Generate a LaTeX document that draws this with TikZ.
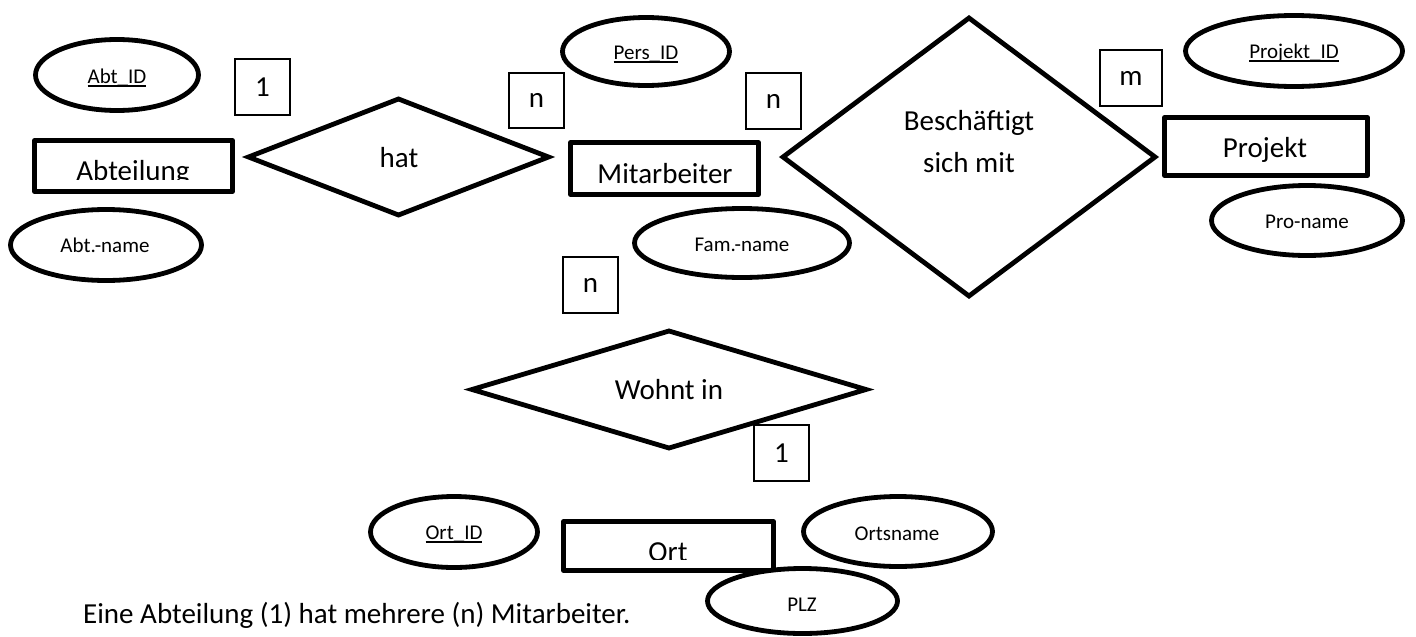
\documentclass[tikz,border=0pt]{standalone}
\usepackage{fontspec}
\setmainfont{Carlito}
\usetikzlibrary{shapes.geometric}
\newcommand\bigfs{\fontsize{29}{35}\selectfont}
\newcommand\smallfs{\fontsize{21}{25}\selectfont}
\newcommand\ulid[1]{\leavevmode\setbox0=\hbox{#1}\rlap{\rule[-4pt]{\wd0}{1.8pt}}\box0}
\tikzset{
  thick line/.style={line width=4.8pt, line join=round},
  attr/.style={ellipse, draw, thick line, fill=white, inner sep=0pt},
  entity/.style={rectangle, draw, thick line, fill=white, inner sep=0pt},
  rel/.style={diamond, draw, line width=4.8pt, fill=white, inner sep=0pt},
  card/.style={rectangle, draw, line width=1.4pt, fill=white, inner sep=0pt, font=\bigfs},
  bigtext/.style={inner sep=0pt, anchor=base, font=\bigfs},
  smalltext/.style={inner sep=0pt, anchor=base, font=\smallfs},
}
\begin{document}
\begin{tikzpicture}[x=1pt,y=-1pt]
\useasboundingbox (0,0) rectangle (1416,637);
% relationships
\node[rel, minimum width=302pt, minimum height=118pt] (hat) at (398.5,157) {};
\node[rel, minimum width=374pt, minimum height=280pt] (besch) at (969,157) {};
\node[rel, minimum width=396pt, minimum height=119pt] (wohnt) at (669,389.5) {};
% entities
\node[entity, minimum width=198pt, minimum height=51pt] (abt) at (133.5,166) {};
\node[entity, minimum width=188pt, minimum height=52pt] (mit) at (664.5,168.5) {};
\node[entity, minimum width=203pt, minimum height=58pt] (proj) at (1266,146.5) {};
\node[entity, minimum width=210pt, minimum height=49pt] (ort) at (668.5,546) {};
% attributes
\node[attr, minimum width=163pt, minimum height=71pt] (abtid) at (117,75) {};
\node[attr, minimum width=191pt, minimum height=71pt] (abtname) at (106,245) {};
\node[attr, minimum width=167pt, minimum height=68pt] (persid) at (646,51.5) {};
\node[attr, minimum width=215pt, minimum height=69pt] (famname) at (742,243) {};
\node[attr, minimum width=217pt, minimum height=71pt] (projid) at (1294,51) {};
\node[attr, minimum width=191pt, minimum height=70pt] (proname) at (1307,220.5) {};
\node[attr, minimum width=167pt, minimum height=71pt] (ortid) at (454,532) {};
\node[attr, minimum width=189pt, minimum height=70pt] (ortsname) at (898,531.5) {};
\node[attr, minimum width=190pt, minimum height=65pt] (plz) at (802.5,601) {};
% cardinalities
\node[card, minimum width=55pt, minimum height=56pt] (c1) at (262.5,87) {1};
\node[card, minimum width=55pt, minimum height=55pt] (c2) at (536.5,100.5) {n};
\node[card, minimum width=55pt, minimum height=56pt] (c3) at (773.5,101) {n};
\node[card, minimum width=62pt, minimum height=56pt] (c4) at (1131,78) {m};
\node[card, minimum width=55pt, minimum height=56pt] (c5) at (590.5,285) {n};
\node[card, minimum width=55pt, minimum height=56pt] (c6) at (781.5,453) {1};
% texts
\node[bigtext] (thhat) at (399,167) {hat};
\node[bigtext] (thb1) at (969,130) {Beschäftigt};
\node[bigtext] (thb2) at (969,172) {sich mit};
\node[bigtext] (thwohnt) at (669,399) {Wohnt in};
\begin{scope}
  \clip (36,142) rectangle (231,179.5);
  \node[bigtext] (tabt) at (133,180) {Abteilung};
\end{scope}
\node[bigtext] (tmit) at (665,183) {Mitarbeiter};
\node[bigtext] (tproj) at (1265,157) {Projekt};
\begin{scope}
  \clip (565,523) rectangle (772,559);
  \node[bigtext] (tort) at (668,561) {Ort};
\end{scope}
\node[smalltext] (tabtid) at (117,83) {\ulid{Abt\_ID}};
\node[smalltext] (tabtname) at (105,252) {Abt.-name};
\node[smalltext] (tpersid) at (646,59) {\ulid{Pers\_ID}};
\node[smalltext] (tfam) at (742,251) {Fam.-name};
\node[smalltext] (tprojid) at (1294,58) {\ulid{Projekt\_ID}};
\node[smalltext] (tproname) at (1307,228) {Pro-name};
\node[smalltext] (tortid) at (454,539) {\ulid{Ort\_ID}};
\node[smalltext] (tortsname) at (897,540) {Ortsname};
\node[smalltext] (tplz) at (802,611) {PLZ};
\node[inner sep=0pt, anchor=base west, font=\bigfs] (caption) at (83,623) {Eine Abteilung (1) hat mehrere (n) Mitarbeiter.};
\end{tikzpicture}
\end{document}
